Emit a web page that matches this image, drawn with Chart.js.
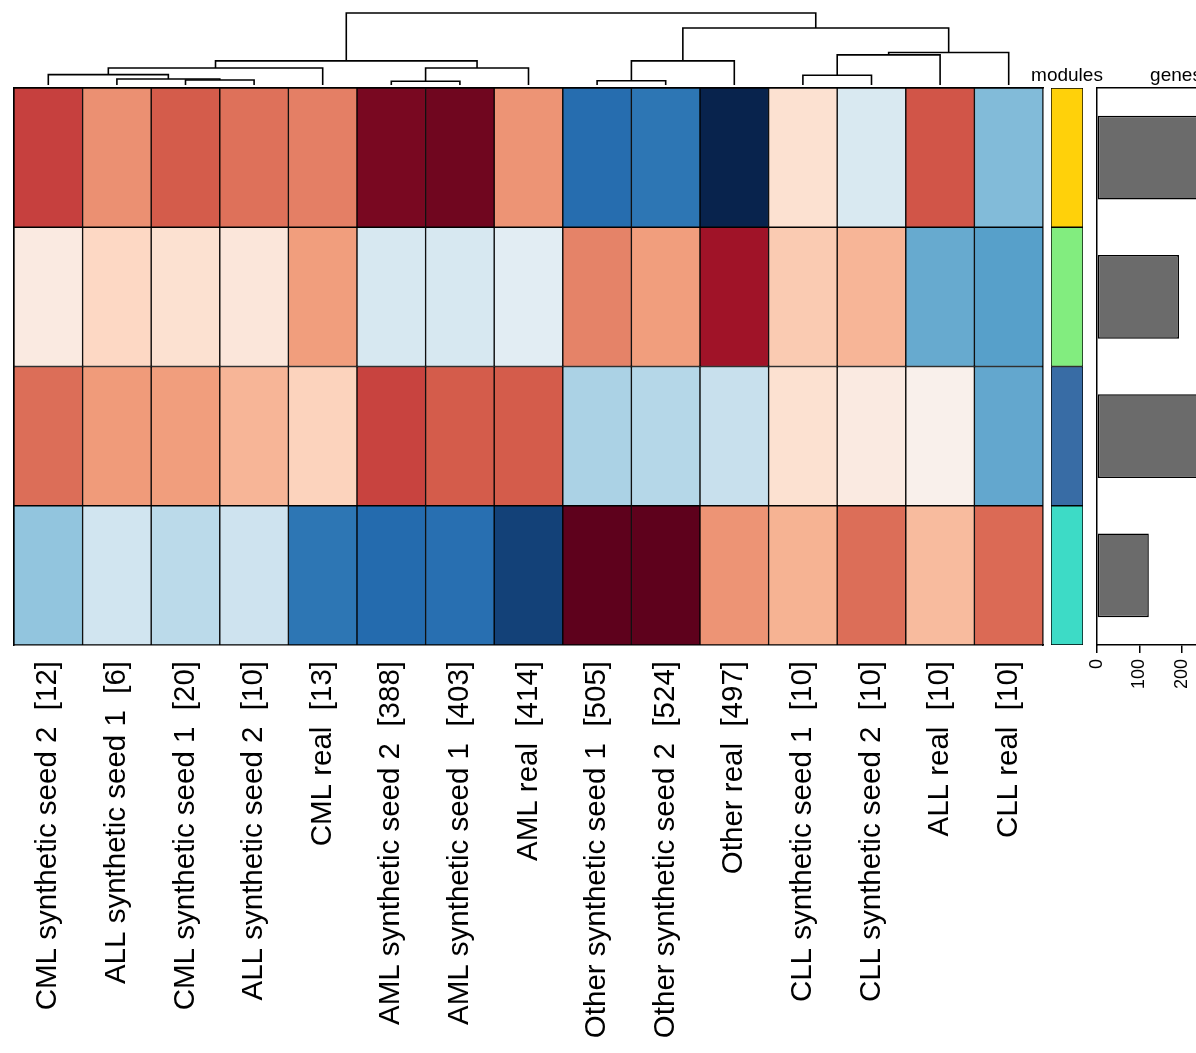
<!DOCTYPE html>
<html>
<head>
<meta charset="utf-8">
<script src="https://cdn.jsdelivr.net/npm/chart.js@4.4.1/dist/chart.umd.min.js"></script>
<style>
  html, body { margin: 0; padding: 0; width: 1196px; height: 1053px; overflow: hidden; background: #fff; }
  canvas { position: absolute; }
  .title { position: absolute; width: 100px; text-align: center; font: 19px "Liberation Sans", Arial, sans-serif; line-height: 19px; color: #000; }
</style>
</head>
<body>
<canvas id="dendro" width="1196" height="88" style="left:0px;top:0px"></canvas>
<canvas id="heat" width="1050" height="973" style="left:0px;top:80px"></canvas>
<canvas id="modules" width="32" height="557" style="left:1051px;top:88px"></canvas>
<canvas id="genes" width="200" height="720" style="left:1080px;top:40px"></canvas>
<div class="title" style="left:1017px;top:65px">modules</div>
<div class="title" style="left:1126px;top:65px">genes</div>
<script>
// columns, in dendrogram order
const samples = [
  'CML synthetic seed 2  [12]', 'ALL synthetic seed 1  [6]', 'CML synthetic seed 1  [20]',
  'ALL synthetic seed 2  [10]', 'CML real  [13]', 'AML synthetic seed 2  [388]',
  'AML synthetic seed 1  [403]', 'AML real  [414]', 'Other synthetic seed 1  [505]',
  'Other synthetic seed 2  [524]', 'Other real  [497]', 'CLL synthetic seed 1  [10]',
  'CLL synthetic seed 2  [10]', 'ALL real  [10]', 'CLL real  [10]'
];
const modules = ['yellow', 'green', 'blue', 'turquoise'];

// scaled expression per module (rows, top to bottom)
const yellowRow    = [0.69, 0.46, 0.61, 0.55, 0.51, 0.93, 0.95, 0.45, -0.77, -0.73, -1.0, 0.16, -0.16, 0.63, -0.44];
const greenRow     = [0.09, 0.21, 0.16, 0.12, 0.42, -0.17, -0.17, -0.11, 0.50, 0.42, 0.84, 0.26, 0.34, -0.51, -0.55];
const blueRow      = [0.56, 0.43, 0.42, 0.34, 0.23, 0.68, 0.61, 0.61, -0.32, -0.29, -0.23, 0.16, 0.09, 0.05, -0.52];
const turquoiseRow = [-0.40, -0.20, -0.27, -0.21, -0.73, -0.78, -0.76, -0.91, 0.99, 0.99, 0.45, 0.35, 0.56, 0.32, 0.57];

const moduleColors = ['#ffd10a', '#82ed7f', '#386ca5', '#3ddbc6'];
const geneCounts = [340, 193, 330, 122];

// hclust style merges: negative = leaf (1-based), positive = earlier merge
const merges = [
  [-6, -7, 3.7], [-9, -10, 4.3], [-3, -4, 5], [-2, 3, 6], [-12, -13, 9.7],
  [-1, 4, 10.3], [6, -5, 17], [1, -8, 17], [7, 8, 24], [2, -11, 24],
  [5, -14, 30], [11, -15, 32.3], [10, 12, 56.7], [9, 13, 71.7]
];

const palStops = [-1, -0.8, -0.6, -0.4, -0.2, 0, 0.2, 0.4, 0.6, 0.8, 1];
const palColors = ['#08234d', '#2166ac', '#4393c3', '#92c5de', '#d1e5f0', '#f7f7f7',
                   '#fddbc7', '#f4a582', '#d6604d', '#b2182b', '#5a001b'];

const hex = h => [1, 3, 5].map(i => parseInt(h.substr(i, 2), 16));
function colorFor(v) {
  v = Math.max(-1, Math.min(1, v));
  let i = 0;
  while (i < palStops.length - 2 && v > palStops[i + 1]) i++;
  const t = (v - palStops[i]) / (palStops[i + 1] - palStops[i]);
  const a = hex(palColors[i]), b = hex(palColors[i + 1]);
  const c = a.map((x, k) => Math.round(x + (b[k] - x) * t));
  return `rgb(${c[0]},${c[1]},${c[2]})`;
}

Chart.defaults.font.family = '"Liberation Sans", Arial, sans-serif';
Chart.defaults.color = '#000';
Chart.defaults.animation = false;
Chart.defaults.plugins.legend.display = false;
Chart.defaults.plugins.tooltip.enabled = false;

// frame line only, no ticks, no space taken
const frame = (pos, horiz) => ({
  type: 'linear', position: pos,
  ticks: { display: false }, grid: { display: false },
  border: { display: true, color: '#000', width: 1.5 },
  afterFit: s => { if (horiz) s.height = 0; else s.width = 0; }
});

// Dendrogram
const nodes = [];
const pos = ref => ref < 0 ? { x: -ref - 1, h: 0 } : nodes[ref - 1];
const dendroSets = merges.map(([a, b, h]) => {
  const l = pos(a), r = pos(b);
  nodes.push({ x: (l.x + r.x) / 2, h: h });
  return {
    data: [{ x: l.x, y: l.h }, { x: l.x, y: h }, { x: r.x, y: h }, { x: r.x, y: r.h }],
    showLine: true, borderColor: '#000', borderWidth: 1.6, pointRadius: 0, tension: 0, clip: false
  };
});
new Chart(document.getElementById('dendro'), {
  type: 'scatter',
  data: { datasets: dendroSets },
  options: {
    responsive: false,
    layout: { padding: { left: 14, right: 153, top: 13, bottom: 3 } },
    scales: {
      x: { display: false, min: -0.5, max: 14.5 },
      y: { display: false, min: 0, max: 71.7 }
    }
  }
});

// Heatmap
const rows = [yellowRow, greenRow, blueRow, turquoiseRow];
new Chart(document.getElementById('heat'), {
  type: 'bar',
  data: {
    labels: samples,
    datasets: rows.map((r, i) => ({
      label: modules[i],
      data: samples.map(() => 1),
      backgroundColor: r.map(colorFor),
      borderColor: '#000', borderWidth: 1, borderSkipped: false,
      barPercentage: 1, categoryPercentage: 1
    }))
  },
  options: {
    responsive: false,
    layout: { padding: { left: 14, right: 7, top: 8, bottom: 0 } },
    scales: {
      x: {
        stacked: true,
        grid: { display: false }, border: { display: true, color: '#000', width: 1.5 },
        ticks: { minRotation: 90, maxRotation: 90, autoSkip: false, padding: 8, font: { size: 29.5 } },
        afterFit: s => { s.height = 408; s.paddingLeft = 0; s.paddingRight = 0; }
      },
      y: {
        stacked: true, min: 0, max: 4, reverse: true,
        ticks: { display: false }, grid: { display: false },
        border: { display: true, color: '#000', width: 1.5 },
        afterFit: s => { s.width = 0; }
      },
      frameTop: frame('top', true),
      frameRight: frame('right', false)
    }
  }
});

// Module colour strip
new Chart(document.getElementById('modules'), {
  type: 'bar',
  data: {
    labels: ['modules'],
    datasets: modules.map((m, i) => ({
      label: m, data: [1], backgroundColor: moduleColors[i],
      borderColor: '#000', borderWidth: 1, borderSkipped: false,
      barPercentage: 1, categoryPercentage: 1
    }))
  },
  options: {
    responsive: false,
    layout: { padding: 0 },
    scales: {
      x: { stacked: true, display: false },
      y: { stacked: true, display: false, min: 0, max: 4, reverse: true }
    }
  }
});

// Genes per module
new Chart(document.getElementById('genes'), {
  type: 'bar',
  data: {
    labels: modules,
    datasets: [{
      data: geneCounts, backgroundColor: '#6b6b6b',
      borderColor: '#000', borderWidth: 1.5, borderSkipped: false,
      barPercentage: 0.6, categoryPercentage: 1
    }]
  },
  options: {
    responsive: false,
    indexAxis: 'y',
    layout: { padding: { left: 17, right: 25, top: 48, bottom: 0 } },
    scales: {
      x: {
        min: 0, max: 372, position: 'bottom',
        ticks: { stepSize: 100, minRotation: 90, maxRotation: 90, padding: 6, font: { size: 18 } },
        grid: { drawOnChartArea: false, drawTicks: true, tickLength: 8, color: '#000', lineWidth: 1.5 },
        border: { display: true, color: '#000', width: 1.5 },
        afterFit: s => { s.height = 115; s.paddingLeft = 0; s.paddingRight = 0; }
      },
      xTop: frame('top', true),
      y: {
        ticks: { display: false }, grid: { display: false },
        border: { display: true, color: '#000', width: 1.5 },
        afterFit: s => { s.width = 0; }
      }
    }
  }
});
</script>
</body>
</html>
